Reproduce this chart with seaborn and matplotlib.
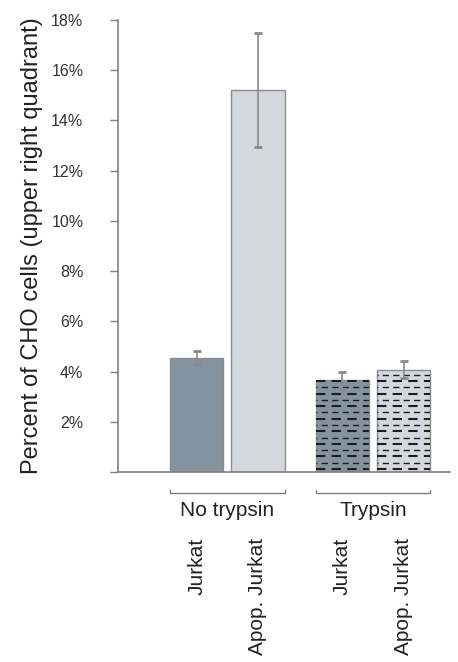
import matplotlib
matplotlib.use("Agg")
import matplotlib.pyplot as plt
import seaborn as sns
import pandas as pd

# dados
grupos = ['No trypsin', 'No trypsin', 'Trypsin', 'Trypsin']
celulas = ['Jurkat', 'Apop. Jurkat', 'Jurkat', 'Apop. Jurkat']
medias = [4.55, 15.2, 3.65, 4.08]
erros = [0.25, 2.27, 0.35, 0.35]
ordem_grupos = ['No trypsin', 'Trypsin']
ordem_celulas = ['Jurkat', 'Apop. Jurkat']
cores = {'Jurkat': '#7f93a5', 'Apop. Jurkat': '#d3d7df'}
yticks = [0, 2, 4, 6, 8, 10, 12, 14, 16, 18]

df = pd.DataFrame({'grupo': grupos, 'celula': celulas, 'media': medias, 'erro': erros})

sns.set_style('white')
plt.rcParams['font.family'] = ['Liberation Sans', 'DejaVu Sans']

fig = plt.figure(figsize=(4.58, 6.62), dpi=100)
ax = fig.add_axes([0.258, 0.287, 0.725, 0.683])

sns.barplot(data=df, x='grupo', y='media', hue='celula', order=ordem_grupos,
            hue_order=ordem_celulas, palette=cores, errorbar=None, width=0.84,
            gap=0.13, edgecolor='#8c8c8c', linewidth=1, legend=False, ax=ax)

# barras ordenadas da esquerda para a direita
barras = sorted(ax.patches, key=lambda p: p.get_x())
centros = [p.get_x() + p.get_width() / 2 for p in barras]

eb = ax.errorbar(centros, df['media'], yerr=df['erro'], fmt='none', ecolor='#8a8a8a',
                 elinewidth=1.2, capsize=3, capthick=2, zorder=5)
for cap in eb[1]:
    cap.set_color('#222222')

# textura tracejada nas barras com tripsina
for p, g in zip(barras, grupos):
    if g != 'Trypsin':
        continue
    x0, x1 = p.get_x(), p.get_x() + p.get_width()
    h = p.get_height()
    linhas = []
    y = 0.12
    while y < h:
        linhas.append(y)
        y += 0.25
    pares = linhas[0::2]
    impares = linhas[1::2]
    lc1 = ax.hlines(pares, x0, x1, colors='#1e1e1e', linewidth=1.5,
                    linestyles=[(0, (4.5, 3))], zorder=3)
    lc2 = ax.hlines(impares, x0, x1, colors='#1e1e1e', linewidth=1.0,
                    linestyles=[(3.7, (4.5, 3))], zorder=3)
    lc1.set_clip_path(p)
    lc2.set_clip_path(p)

ax.set_xlim(-0.75, 1.53)
ax.set_ylim(0, 18)
ax.set_yticks(yticks)
ax.set_yticklabels(['' if v == 0 else f'{v}%' for v in yticks], fontsize=11.5, color='#333333')
ax.tick_params(axis='y', length=6, width=1, color='#808080', left=True, pad=19)
ax.set_xticks([])
ax.set_xlabel('')
ax.set_ylabel('Percent of CHO cells (upper right quadrant)', fontsize=17, color='#222222', labelpad=6)

sns.despine(ax=ax)
for s in ['left', 'bottom']:
    ax.spines[s].set_color('#808080')
    ax.spines[s].set_linewidth(1.2)

# colchetes e rotulos dos grupos
trans = ax.get_xaxis_transform()
for i, g in enumerate(ordem_grupos):
    bs = [p for p, gg in zip(barras, grupos) if gg == g]
    xa = bs[0].get_x()
    xb = bs[-1].get_x() + bs[-1].get_width()
    ax.plot([xa, xa, xb, xb], [-0.04, -0.047, -0.047, -0.04], transform=trans,
            color='#808080', lw=1, clip_on=False)
    ax.text((xa + xb) / 2, -0.086, g, transform=trans, ha='center', va='center',
            fontsize=15, color='#222222')

for c, cel in zip(centros, celulas):
    ax.text(c, -0.145, cel, transform=trans, ha='center', va='top', rotation=90,
            fontsize=15, color='#222222')

fig.savefig('out.png', dpi=100)
